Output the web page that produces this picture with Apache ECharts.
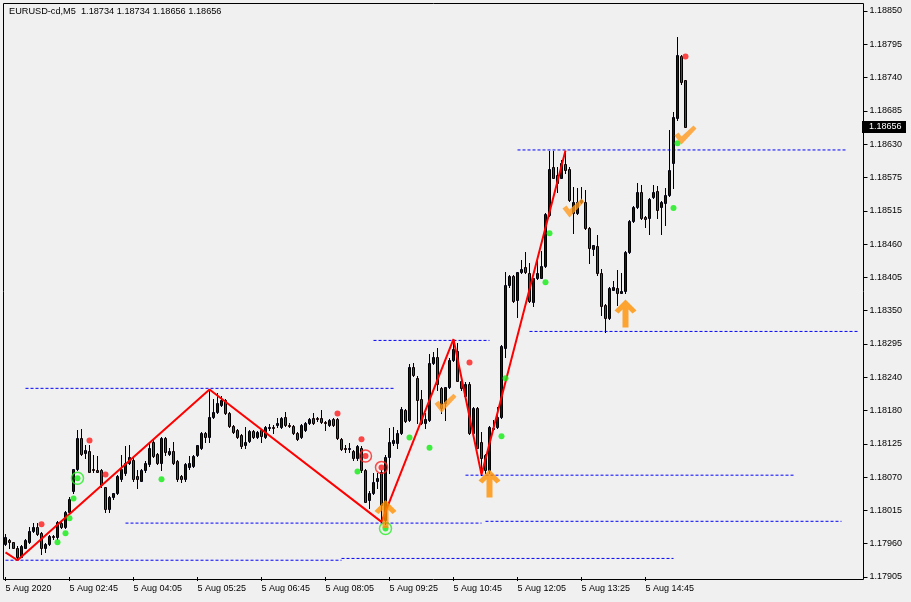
<!DOCTYPE html>
<html><head><meta charset="utf-8">
<script src="https://cdn.jsdelivr.net/npm/echarts@6/dist/echarts.min.js"></script>
<style>html,body{margin:0;padding:0;background:#f0f0f0}#c{width:911px;height:602px}</style>
</head><body><div id="c"></div><script>
const symbolName = 'EURUSD-cd';
const timeframe = 'M5';
const xTickLabels = ['5 Aug 2020','5 Aug 02:45','5 Aug 04:05','5 Aug 05:25','5 Aug 06:45','5 Aug 08:05','5 Aug 09:25','5 Aug 10:45','5 Aug 12:05','5 Aug 13:25','5 Aug 14:45'];
const yTickLabels = ['1.17905','1.17960','1.18015','1.18070','1.18125','1.18180','1.18240','1.18295','1.18350','1.18405','1.18460','1.18515','1.18575','1.18630','1.18685','1.18740','1.18795','1.18850'];
const opens = [
1.17960,1.17966,1.17963,1.17954,1.17939,1.17954,1.17963,1.17981,1.17988,1.17978,
1.17954,1.17960,1.17973,1.17971,1.17995,1.17988,1.18013,1.18048,1.18085,1.18137,
1.18112,1.18115,1.18085,1.18083,1.18083,1.18055,1.18018,1.18038,1.18045,1.18068,
1.18078,1.18095,1.18101,1.18073,1.18066,1.18083,1.18093,1.18130,1.18110,1.18095,
1.18137,1.18110,1.18115,1.18098,1.18073,1.18068,1.18088,1.18090,1.18108,1.18120,
1.18145,1.18138,1.18172,1.18180,1.18192,1.18200,1.18178,1.18157,1.18150,1.18142,
1.18125,1.18132,1.18148,1.18138,1.18150,1.18138,1.18153,1.18155,1.18158,1.18155,
1.18172,1.18158,1.18157,1.18145,1.18138,1.18150,1.18162,1.18170,1.18170,1.18170,
1.18163,1.18158,1.18168,1.18168,1.18135,1.18120,1.18118,1.18115,1.18103,1.18121,
1.18083,1.18033,1.18045,1.18066,1.18080,1.18000,1.18105,1.18128,1.18128,1.18145,
1.18183,1.18167,1.18255,1.18238,1.18203,1.18162,1.18167,1.18262,1.18272,1.18220,
1.18195,1.18222,1.18267,1.18283,1.18233,1.18208,1.18228,1.18145,1.18187,1.18130,
1.18108,1.18083,1.18152,1.18155,1.18172,1.18288,1.18392,1.18407,1.18367,1.18414,
1.18422,1.18412,1.18364,1.18404,1.18405,1.18424,1.18509,1.18589,1.18576,1.18572,
1.18594,1.18587,1.18512,1.18512,1.18531,1.18531,1.18487,1.18452,1.18457,1.18412,
1.18359,1.18337,1.18385,1.18387,1.18380,1.18382,1.18447,1.18499,1.18522,1.18547,
1.18506,1.18504,1.18539,1.18549,1.18522,1.18529,1.18542,1.18596,1.18671,1.18775,
1.18734];
const highs = [
1.17976,1.17968,1.17964,1.17956,1.17958,1.17969,1.17988,1.17995,1.17995,1.17980,
1.17961,1.17975,1.17975,1.17998,1.17998,1.18016,1.18038,1.18086,1.18150,1.18152,
1.18125,1.18125,1.18108,1.18107,1.18085,1.18056,1.18040,1.18046,1.18075,1.18108,
1.18123,1.18125,1.18103,1.18083,1.18085,1.18098,1.18130,1.18135,1.18112,1.18138,
1.18138,1.18121,1.18130,1.18100,1.18075,1.18095,1.18107,1.18108,1.18126,1.18147,
1.18147,1.18218,1.18203,1.18212,1.18208,1.18203,1.18180,1.18158,1.18152,1.18143,
1.18155,1.18150,1.18150,1.18148,1.18152,1.18157,1.18160,1.18158,1.18170,1.18172,
1.18180,1.18162,1.18158,1.18147,1.18160,1.18163,1.18170,1.18178,1.18172,1.18183,
1.18165,1.18168,1.18170,1.18170,1.18137,1.18125,1.18128,1.18117,1.18125,1.18123,
1.18085,1.18048,1.18078,1.18078,1.18083,1.18108,1.18153,1.18155,1.18150,1.18188,
1.18185,1.18260,1.18262,1.18240,1.18217,1.18178,1.18278,1.18280,1.18287,1.18222,
1.18223,1.18270,1.18302,1.18295,1.18235,1.18230,1.18230,1.18188,1.18188,1.18147,
1.18110,1.18157,1.18167,1.18188,1.18292,1.18414,1.18409,1.18409,1.18415,1.18435,
1.18447,1.18429,1.18405,1.18440,1.18450,1.18512,1.18616,1.18616,1.18589,1.18601,
1.18617,1.18589,1.18556,1.18554,1.18556,1.18551,1.18489,1.18460,1.18476,1.18420,
1.18360,1.18389,1.18399,1.18417,1.18412,1.18449,1.18501,1.18524,1.18562,1.18559,
1.18507,1.18537,1.18559,1.18557,1.18532,1.18554,1.18651,1.18681,1.18806,1.18776,
1.18734];
const lows = [
1.17958,1.17954,1.17953,1.17933,1.17938,1.17953,1.17961,1.17980,1.17975,1.17944,
1.17946,1.17958,1.17969,1.17969,1.17986,1.17986,1.18011,1.18046,1.18083,1.18108,
1.18103,1.18080,1.18080,1.18080,1.18056,1.18013,1.18013,1.18036,1.18043,1.18066,
1.18076,1.18093,1.18066,1.18053,1.18065,1.18081,1.18091,1.18105,1.18093,1.18083,
1.18108,1.18108,1.18093,1.18066,1.18063,1.18066,1.18086,1.18088,1.18107,1.18118,
1.18130,1.18130,1.18170,1.18178,1.18190,1.18177,1.18155,1.18145,1.18137,1.18121,
1.18121,1.18130,1.18137,1.18137,1.18130,1.18137,1.18150,1.18145,1.18155,1.18153,
1.18157,1.18155,1.18143,1.18133,1.18137,1.18148,1.18160,1.18160,1.18165,1.18162,
1.18150,1.18157,1.18157,1.18135,1.18117,1.18113,1.18113,1.18101,1.18101,1.18081,
1.18030,1.18021,1.18043,1.18053,1.17997,1.17993,1.18078,1.18126,1.18120,1.18143,
1.18163,1.18165,1.18240,1.18162,1.18160,1.18153,1.18165,1.18260,1.18217,1.18178,
1.18167,1.18220,1.18265,1.18232,1.18217,1.18205,1.18143,1.18143,1.18120,1.18076,
1.18078,1.18078,1.18150,1.18153,1.18170,1.18272,1.18390,1.18364,1.18339,1.18412,
1.18412,1.18364,1.18357,1.18402,1.18404,1.18422,1.18507,1.18571,1.18547,1.18571,
1.18579,1.18532,1.18479,1.18511,1.18529,1.18486,1.18429,1.18442,1.18410,1.18342,
1.18314,1.18335,1.18384,1.18359,1.18379,1.18380,1.18446,1.18497,1.18521,1.18502,
1.18489,1.18477,1.18537,1.18504,1.18477,1.18492,1.18541,1.18554,1.18668,1.18728,
1.18656];
const closes = [
1.17971,1.17963,1.17954,1.17938,1.17956,1.17966,1.17981,1.17988,1.17976,1.17954,
1.17960,1.17973,1.17971,1.17996,1.17988,1.18013,1.18036,1.18085,1.18137,1.18110,
1.18117,1.18081,1.18083,1.18081,1.18058,1.18018,1.18038,1.18045,1.18073,1.18085,
1.18095,1.18105,1.18068,1.18068,1.18083,1.18095,1.18120,1.18107,1.18095,1.18137,
1.18113,1.18115,1.18095,1.18068,1.18068,1.18093,1.18095,1.18107,1.18125,1.18145,
1.18138,1.18172,1.18180,1.18195,1.18200,1.18178,1.18157,1.18147,1.18138,1.18123,
1.18130,1.18148,1.18138,1.18147,1.18140,1.18155,1.18155,1.18153,1.18162,1.18170,
1.18158,1.18157,1.18145,1.18135,1.18158,1.18162,1.18168,1.18162,1.18168,1.18163,
1.18162,1.18167,1.18158,1.18137,1.18118,1.18118,1.18120,1.18103,1.18123,1.18083,
1.18031,1.18046,1.18063,1.18070,1.18026,1.18105,1.18130,1.18133,1.18145,1.18185,
1.18165,1.18255,1.18242,1.18200,1.18162,1.18168,1.18262,1.18272,1.18228,1.18187,
1.18222,1.18267,1.18285,1.18233,1.18220,1.18228,1.18145,1.18187,1.18121,1.18103,
1.18083,1.18155,1.18153,1.18172,1.18290,1.18392,1.18407,1.18365,1.18414,1.18419,
1.18414,1.18365,1.18404,1.18412,1.18424,1.18511,1.18586,1.18572,1.18562,1.18597,
1.18584,1.18534,1.18531,1.18531,1.18534,1.18487,1.18454,1.18459,1.18412,1.18357,
1.18337,1.18387,1.18389,1.18379,1.18382,1.18447,1.18499,1.18522,1.18547,1.18504,
1.18502,1.18536,1.18547,1.18517,1.18531,1.18542,1.18584,1.18673,1.18776,1.18731,
1.18656];
const zigzagIdx = [0,3,51,94,112,119,140];
const zigzagVal = [1.17946,1.17933,1.18218,1.17997,1.18302,1.18076,1.18617];
const greenDotIdx = [13,15,16,17,18,39,88,95,101,106,124,125,135,136,167,168];
const greenDotVal = [1.17963,1.17978,1.18003,1.18036,1.18070,1.18068,1.18081,1.17986,1.18138,1.18121,1.18140,1.18237,1.18397,1.18479,1.18521,1.18629];
const redDotIdx = [9,21,25,83,89,90,94,116,170];
const redDotVal = [1.17993,1.18133,1.18076,1.18178,1.18135,1.18107,1.18088,1.18263,1.18774];
const greenRingIdx = [18,95];
const greenRingVal = [1.18070,1.17986];
const redRingIdx = [90,94];
const redRingVal = [1.18107,1.18088];
const levelVal = [1.18220,1.17995,1.17998,1.17933,1.17936,1.18300,1.18075,1.18315,1.18618];
const levelStart = [5,30,120,0,84,92,115,131,128];
const levelEnd = [97,119,209,84,167,121,197,213,210];
const arrowIdx = [95,121,155];
const arrowVal = [1.18010,1.18061,1.18345];
const checkIdx = [110,142,170];
const checkVal = [1.18195,1.18521,1.18643];

const SLOTS = 215;
const FONT = 'Liberation Sans';
const BULL = '#0000ff', BEAR = '#ff0000';
const cats = [];
for (let i = 0; i < SLOTS; i++) cats.push(i % 16 === 0 && xTickLabels[i / 16] ? xTickLabels[i / 16] : '');
const last = opens.length - 1;
const f5 = v => v.toFixed(5);
const headerText = symbolName + ',' + timeframe + '  ' + [opens[last], highs[last], lows[last], closes[last]].map(f5).join(' ');

function renderCandle(params, api) {
  const i = api.value(0), o = api.value(1), c = api.value(2), l = api.value(3), h = api.value(4);
  const pO = api.coord([i, o]), pC = api.coord([i, c]), pL = api.coord([i, l]), pH = api.coord([i, h]);
  const col = Math.floor(pO[0]);
  const yTop = Math.round(Math.min(pO[1], pC[1]));
  const yBot = Math.round(Math.max(pO[1], pC[1]));
  const yH = Math.round(pH[1]), yL = Math.round(pL[1]);
  const children = [{
    type:'line', shape:{x1:col+0.5, y1:yH, x2:col+0.5, y2:yL+1},
    style:{stroke:'#000', lineWidth:1}
  }];
  if (yBot - yTop >= 1) {
    children.push({type:'rect', shape:{x:col-0.5, y:yTop+0.5, width:2, height:yBot-yTop},
      style:{fill: c >= o ? BULL : BEAR, stroke:'#000', lineWidth:1}});
  } else {
    children.push({type:'line', shape:{x1:col-1, y1:yTop+0.5, x2:col+2, y2:yTop+0.5},
      style:{stroke:'#000', lineWidth:1}});
  }
  return {type:'group', children};
}

const series = [];
levelVal.forEach((v, k) => {
  series.push({type:'line', data:[[levelStart[k], v],[levelEnd[k], v]], symbol:'none', silent:true, z:1,
    lineStyle:{color:'#0000ff', width:1, type:[3,2]}});
});
series.push({
  type:'custom', z:3, renderItem: renderCandle, silent:true,
  data: opens.map((o,i)=>[i, o, closes[i], lows[i], highs[i]]),
  encode:{x:0, y:[1,2,3,4]}
});
series.push({type:'line', z:4, data: zigzagIdx.map((x,k)=>[x, zigzagVal[k]]), symbol:'none', silent:true,
  lineStyle:{color:'#ff0000', width:2}});
series.push({type:'scatter', z:5, data: greenRingIdx.map((x,k)=>[x, greenRingVal[k]]), symbol:'circle', symbolSize:12,
  itemStyle:{color:'rgba(0,0,0,0)', borderColor:'#22ee22', borderWidth:1.5}});
series.push({type:'scatter', z:5, data: redRingIdx.map((x,k)=>[x, redRingVal[k]]), symbol:'circle', symbolSize:12,
  itemStyle:{color:'rgba(0,0,0,0)', borderColor:'#ff2020', borderWidth:1.5}});
series.push({type:'scatter', z:6, data: greenDotIdx.map((x,k)=>[x, greenDotVal[k]]), symbol:'circle', symbolSize:6,
  itemStyle:{color:'#11ee11'}});
series.push({type:'scatter', z:6, data: redDotIdx.map((x,k)=>[x, redDotVal[k]]), symbol:'circle', symbolSize:6,
  itemStyle:{color:'#ff1a1a'}});
series.push({type:'scatter', z:7, data: arrowIdx.map((x,k)=>[x, arrowVal[k]]),
  symbol:'path://M11,0 L22,11 L18,14 L14,10 L14,28 L8,28 L8,10 L4,14 L0,11 Z', symbolSize:[22,28],
  itemStyle:{color:'#ff9000'}});
series.push({type:'scatter', z:7, data: checkIdx.map((x,k)=>[x, checkVal[k]]),
  symbol:'path://M0,10 L4,7 L7,11 L19,0 L22,3 L7,19 Z', symbolSize:[22,19],
  itemStyle:{color:'#ff9a1e'}});

const chart = echarts.init(document.getElementById('c'), null, {renderer:'canvas'});
const baseGraphic = [
  {type:'rect', silent:true, z:100, shape:{x:3.5, y:3.5, width:860, height:576}, style:{fill:null, stroke:'#000', lineWidth:1}},
  {type:'text', silent:true, z:100, left:9, top:7, style:{text:headerText, fill:'#000', font:'9.2px "Liberation Sans"'}}
];
chart.setOption({
  animation:false,
  backgroundColor:'#f0f0f0',
  grid:{left:3.5, top:11, width:860, height:566, containLabel:false},
  xAxis:{type:'category', data:cats, boundaryGap:true, offset:2,
    axisLine:{show:false},
    axisTick:{show:true, alignWithLabel:true, length:4, interval:(i,v)=>v!=='', lineStyle:{color:'#000'}},
    axisLabel:{show:true, interval:(i,v)=>v!=='', align:'left', margin:5, color:'#000', fontFamily:FONT, fontSize:9},
    splitLine:{show:false}},
  yAxis:[
    {type:'value', min:1.17905, max:1.18850, show:false, splitLine:{show:false}},
    {type:'value', min:0, max:17, interval:1, position:'right',
      axisLine:{show:false},
      axisTick:{show:true, length:4, lineStyle:{color:'#000'}},
      axisLabel:{show:true, margin:6, color:'#000', fontFamily:FONT, fontSize:9, formatter:v=>yTickLabels[Math.round(v)]},
      splitLine:{show:false}}
  ],
  graphic: baseGraphic,
  series: series
});
// current price tag placed through the price axis scale
const py = Math.round(chart.convertToPixel({yAxisIndex:0}, closes[last]));
chart.setOption({graphic: baseGraphic.concat([
  {type:'rect', silent:true, z:110, shape:{x:862, y:py-6, width:44, height:12}, style:{fill:'#000'}},
  {type:'text', silent:true, z:111, x:869, y:py, style:{text:f5(closes[last]), fill:'#fff', font:'9px "Liberation Sans"', verticalAlign:'middle'}}
])});
</script></body></html>
